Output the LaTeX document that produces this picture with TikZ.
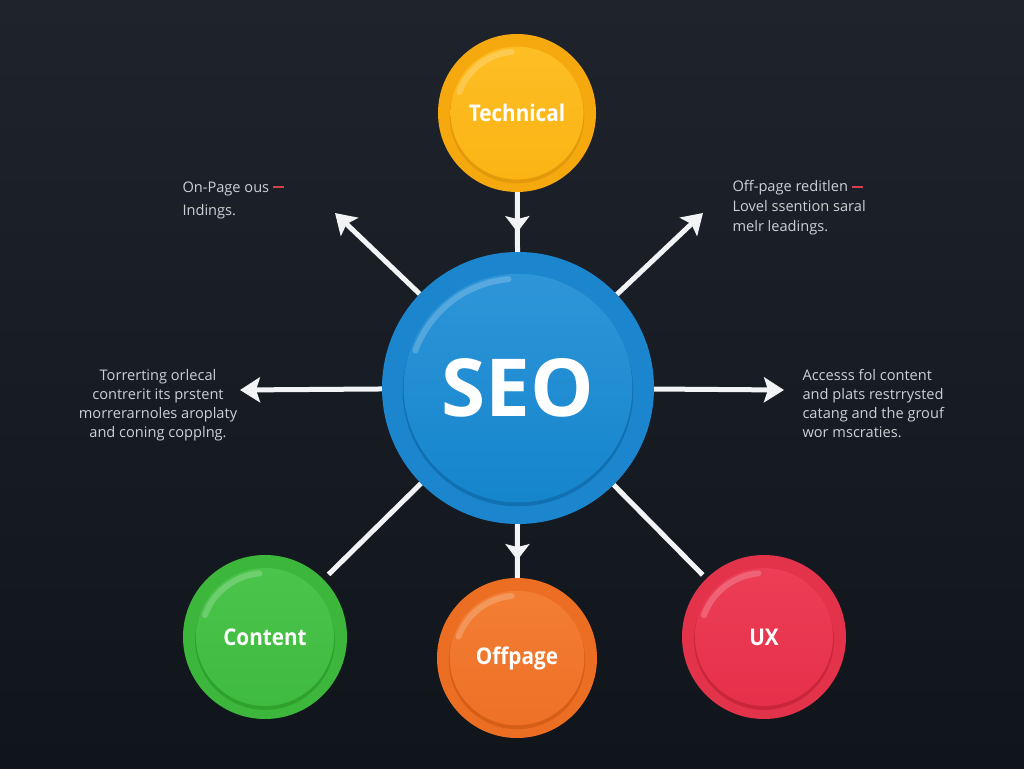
\documentclass[tikz,border=0pt]{standalone}
\usepackage{fontspec}
\setmainfont{Open Sans}
\newfontfamily\labfont[FakeStretch=0.9]{Open Sans}
\usetikzlibrary{arrows.meta,decorations.markings}
\definecolor{bgtop}{HTML}{1F242C}
\definecolor{bgbot}{HTML}{10141B}
\definecolor{txt}{HTML}{CDD0D5}
\definecolor{dashred}{HTML}{D8404E}
\definecolor{conncol}{HTML}{F2F3F5}
% yellow
\definecolor{yel-out}{HTML}{F6A90F}
\definecolor{yel-in}{HTML}{FBB414}
\definecolor{yel-top}{HTML}{FDBE25}
\definecolor{yel-shd}{HTML}{E39A0A}
% blue
\definecolor{blu-out}{HTML}{1B86CE}
\definecolor{blu-in}{HTML}{1585CC}
\definecolor{blu-top}{HTML}{2E95D8}
\definecolor{blu-shd}{HTML}{1170B2}
% green
\definecolor{grn-out}{HTML}{3CB73C}
\definecolor{grn-in}{HTML}{3FBB3F}
\definecolor{grn-top}{HTML}{4BC44B}
\definecolor{grn-shd}{HTML}{2FA12F}
% orange
\definecolor{org-out}{HTML}{EB6E22}
\definecolor{org-in}{HTML}{EE7127}
\definecolor{org-top}{HTML}{F27E34}
\definecolor{org-shd}{HTML}{D65F18}
% red
\definecolor{red-out}{HTML}{E2334A}
\definecolor{red-in}{HTML}{E7304B}
\definecolor{red-top}{HTML}{EC3E56}
\definecolor{red-shd}{HTML}{C9263C}
\begin{document}
\begin{tikzpicture}[x=1pt,y=1pt,
  bub/.style 2 args={circle, inner sep=0pt, minimum size=#1, fill=#2-out, text=white,
    path picture={
      \fill[#2-shd] ([yshift=-3pt]path picture bounding box.center) circle[radius=0.42*#1+1pt];
      \fill[top color=#2-top, bottom color=#2-in] (path picture bounding box.center) circle[radius=0.42*#1];
      \draw[white, opacity=0.2, line width=6pt, line cap=round]
        ([shift={(95:0.42*#1-5pt)}]path picture bounding box.center)
        arc[start angle=95, end angle=160, radius=0.42*#1-5pt];
    }},
  lab/.style={font=\labfont\bfseries\fontsize{23}{23}\selectfont},
  conn/.style={draw=conncol, line width=5pt},
  tip/.style={-{Stealth[length=20pt, width=25pt, inset=4pt]}},
  midtip/.style={postaction={decorate}, decoration={markings,
    mark=at position 0.67 with {\arrow{Stealth[length=16pt, width=24pt, inset=3pt, color=conncol]}}}},
  body/.style={text=txt, font=\fontsize{14.6}{19}\selectfont}
]
\useasboundingbox (0,0) rectangle (1024,768);
\fill[top color=bgtop, bottom color=bgbot] (0,0) rectangle (1024,768);

% bubbles
\node[bub={272pt}{blu}, font=\bfseries\fontsize{80}{80}\selectfont] (seo) at (518,380) {SEO};
\node[bub={158pt}{yel}, lab] (tech) at (517,655) {Technical};
\node[bub={164pt}{grn}, lab] (cont) at (265,131) {Content};
\node[bub={160pt}{org}, lab] (off) at (517,110) {Offpage};
\node[bub={164pt}{red}, lab] (ux) at (764,131) {UX};

% free arrow ends
\coordinate (ul) at (335,555);
\coordinate (ur) at (703,555);
\coordinate (lt) at (240,378);
\coordinate (rt) at (784,378);

% connectors
\draw[conn, midtip] (tech) -- (seo);
\draw[conn, midtip] (seo) -- (off);
\draw[conn, tip] (seo) -- (ul);
\draw[conn, tip] (seo) -- (ur);
\draw[conn, tip] (seo) -- (lt);
\draw[conn, tip] (seo) -- (rt);
\draw[conn, shorten >=7pt] (seo) -- (cont);
\draw[conn, shorten >=5pt] (seo) -- (ux);

% texts
\node[body, anchor=west, align=left, font=\fontsize{14.6}{23}\selectfont] (tul) at (179,568)
  {On-Page ous \textcolor{dashred}{\rule[4pt]{11pt}{1.6pt}}\\Indings.};
\node[body, anchor=west, align=left, font=\fontsize{14.6}{20}\selectfont] (tur) at (729,560)
  {Off-page reditlen \textcolor{dashred}{\rule[4pt]{11pt}{1.6pt}}\\Lovel ssention saral\\melr leadings.};
\node[body, align=center] (tlt) at (158,363)
  {Torrerting orlecal\\contrerit its prstent\\morrerarnoles aroplaty\\and coning copplng.};
\node[body, anchor=west, align=left] (trt) at (799,364)
  {Accesss fol content\\and plats restrrysted\\catang and the grouf\\wor mscraties.};
\end{tikzpicture}
\end{document}
